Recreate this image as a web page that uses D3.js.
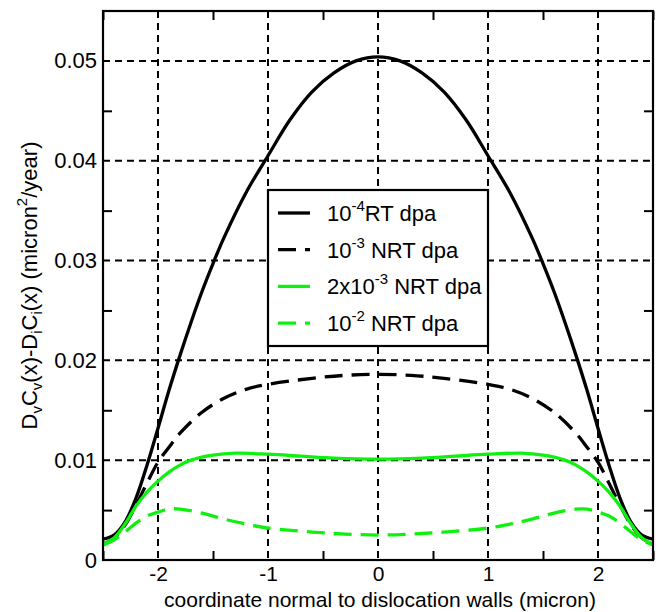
<!DOCTYPE html>
<html>
<head>
<meta charset="utf-8">
<script src="https://cdn.jsdelivr.net/npm/d3@7"></script>
<style>
  body { margin: 0; background: #fff; }
  svg { font-family: "Liberation Sans", Arial, sans-serif; }
</style>
</head>
<body>
<div id="chart"></div>
<script>
// curve data
var xRT = [-2.5, -2.4, -2.3, -2.2, -2.1, -2.0, -1.9, -1.8, -1.7, -1.6, -1.5, -1.4, -1.2, -1.0, -0.8, -0.6, -0.4, -0.2, 0,
    0.2, 0.4, 0.6, 0.8, 1.0, 1.2, 1.4, 1.5, 1.6, 1.7, 1.8, 1.9, 2.0, 2.1, 2.2, 2.3, 2.4, 2.5];
var yRT = [0.0021, 0.0025, 0.0038, 0.0062, 0.0095, 0.0132, 0.0170, 0.0205, 0.0238, 0.0269, 0.0297, 0.0323, 0.0368, 0.0405, 0.0441, 0.0469, 0.0488, 0.0500, 0.0504,
    0.0500, 0.0488, 0.0469, 0.0441, 0.0405, 0.0368, 0.0323, 0.0297, 0.0269, 0.0238, 0.0205, 0.0170, 0.0132, 0.0095, 0.0062, 0.0038, 0.0025, 0.0021];

var xNRT3 = [-2.5, -2.4, -2.3, -2.2, -2.1, -2.0, -1.9, -1.8, -1.6, -1.4, -1.2, -1.0, -0.6, -0.3, 0,
    0.3, 0.6, 1.0, 1.2, 1.4, 1.6, 1.8, 1.9, 2.0, 2.1, 2.2, 2.3, 2.4, 2.5];
var yNRT3 = [0.0016, 0.0022, 0.0035, 0.0055, 0.0077, 0.0098, 0.0113, 0.0127, 0.0148, 0.0162, 0.0171, 0.0176, 0.0182, 0.0185, 0.0186,
    0.0185, 0.0182, 0.0176, 0.0171, 0.0162, 0.0148, 0.0127, 0.0113, 0.0098, 0.0077, 0.0055, 0.0035, 0.0022, 0.0016];

var x2NRT3 = [-2.5, -2.4, -2.3, -2.2, -2.1, -2.0, -1.9, -1.8, -1.7, -1.5, -1.3, -1.0, -0.7, -0.4, 0,
    0.4, 0.7, 1.0, 1.3, 1.5, 1.7, 1.8, 1.9, 2.0, 2.1, 2.2, 2.3, 2.4, 2.5];
var y2NRT3 = [0.0016, 0.0022, 0.0036, 0.0054, 0.0068, 0.0079, 0.0088, 0.0095, 0.0100, 0.0105, 0.0107, 0.0106, 0.0104, 0.0102, 0.0101,
    0.0102, 0.0104, 0.0106, 0.0107, 0.0105, 0.0100, 0.0095, 0.0088, 0.0079, 0.0068, 0.0054, 0.0036, 0.0022, 0.0016];

var xNRT2 = [-2.5, -2.4, -2.3, -2.2, -2.1, -2.0, -1.9, -1.8, -1.6, -1.4, -1.2, -1.0, -0.6, -0.3, 0,
    0.3, 0.6, 1.0, 1.2, 1.4, 1.6, 1.8, 1.9, 2.0, 2.1, 2.2, 2.3, 2.4, 2.5];
var yNRT2 = [0.0015, 0.0020, 0.0028, 0.0037, 0.0044, 0.0048, 0.0051, 0.0051, 0.0047, 0.0041, 0.0036, 0.0032, 0.0028, 0.0026, 0.0025,
    0.0026, 0.0028, 0.0032, 0.0036, 0.0041, 0.0047, 0.0051, 0.0051, 0.0048, 0.0044, 0.0037, 0.0028, 0.0020, 0.0015];

var xMajor = [-2, -1, 0, 1, 2];
var xMinor = [-2.5, -1.5, -0.5, 0.5, 1.5, 2.5];
var yMajor = [0, 0.01, 0.02, 0.03, 0.04, 0.05];
var yMinor = [0.005, 0.015, 0.025, 0.035, 0.045];

var green = "#10f010";
var series = [
    {x: xRT, y: yRT, color: "#000", dash: null, label: ["10", "-4", "RT dpa"]},
    {x: xNRT3, y: yNRT3, color: "#000", dash: "18,9", label: ["10", "-3", " NRT dpa"]},
    {x: x2NRT3, y: y2NRT3, color: green, dash: null, label: ["2x10", "-3", " NRT dpa"]},
    {x: xNRT2, y: yNRT2, color: green, dash: "18,9", label: ["10", "-2", " NRT dpa"]}
];

var margin = {top: 11, right: 7, bottom: 52, left: 103},
    width = 660 - margin.left - margin.right,
    height = 612 - margin.top - margin.bottom;

var x = d3.scaleLinear().domain([-2.5, 2.5]).range([0, width]);
var y = d3.scaleLinear().domain([0, 0.055]).range([height, 0]);

var svg = d3.select("#chart").append("svg").attr("width", 660).attr("height", 612);
var g = svg.append("g").attr("transform", "translate(" + margin.left + "," + margin.top + ")");

// dashed grid
g.append("g").selectAll("line").data(xMajor).enter().append("line")
    .attr("x1", function(d) { return x(d); }).attr("x2", function(d) { return x(d); })
    .attr("y1", 0).attr("y2", height)
    .attr("stroke", "#000").attr("stroke-width", 2).attr("stroke-dasharray", "7,5");
g.append("g").selectAll("line").data(yMajor.slice(1)).enter().append("line")
    .attr("x1", 0).attr("x2", width)
    .attr("y1", function(d) { return y(d); }).attr("y2", function(d) { return y(d); })
    .attr("stroke", "#000").attr("stroke-width", 2).attr("stroke-dasharray", "7,5");

// minor ticks, inward on all four sides
function tickStyle(sel) {
    sel.select(".domain").remove();
    sel.selectAll(".tick line").attr("stroke", "#000").attr("stroke-width", 2);
}
g.append("g").attr("transform", "translate(0," + height + ")")
    .call(d3.axisBottom(x).tickValues(xMinor).tickSize(-9).tickFormat("")).call(tickStyle);
g.append("g")
    .call(d3.axisTop(x).tickValues(xMinor).tickSize(-9).tickFormat("")).call(tickStyle);
g.append("g")
    .call(d3.axisLeft(y).tickValues(yMinor).tickSize(-9).tickFormat("")).call(tickStyle);
g.append("g").attr("transform", "translate(" + width + ",0)")
    .call(d3.axisRight(y).tickValues(yMinor).tickSize(-9).tickFormat("")).call(tickStyle);

// tick labels
var xAxis = g.append("g").attr("transform", "translate(0," + height + ")")
    .call(d3.axisBottom(x).tickValues(xMajor).tickSize(0).tickPadding(6)
        .tickFormat(function(d) { return String(d); }));
xAxis.select(".domain").remove();
xAxis.selectAll("text").attr("font-size", 21).attr("fill", "#000")
    .attr("font-family", "Liberation Sans, Arial, sans-serif");

var yAxis = g.append("g")
    .call(d3.axisLeft(y).tickValues(yMajor).tickSize(0).tickPadding(6)
        .tickFormat(function(d) { return d === 0 ? "0" : d3.format(".2f")(d); }));
yAxis.select(".domain").remove();
yAxis.selectAll("text").attr("font-size", 22).attr("fill", "#000")
    .attr("font-family", "Liberation Sans, Arial, sans-serif");

// curves
var line = d3.line().curve(d3.curveCatmullRom)
    .x(function(d) { return x(d[0]); }).y(function(d) { return y(d[1]); });

series.forEach(function(s) {
    var pts = s.x.map(function(v, i) { return [v, s.y[i]]; });
    g.append("path").datum(pts)
        .attr("d", line).attr("fill", "none")
        .attr("stroke", s.color).attr("stroke-width", 3.3)
        .attr("stroke-dasharray", s.dash);
});

// frame
g.append("rect").attr("width", width).attr("height", height)
    .attr("fill", "none").attr("stroke", "#000").attr("stroke-width", 2.2);

// legend
var lg = g.append("g").attr("transform", "translate(" + x(-1) + "," + (190 - margin.top) + ")");
lg.append("rect").attr("width", x(1) - x(-1)).attr("height", 156)
    .attr("fill", "#fff").attr("stroke", "#000").attr("stroke-width", 2.2);
var items = lg.selectAll(".legend").data(series).enter().append("g").attr("class", "legend")
    .attr("transform", function(d, i) { return "translate(0," + (23 + i * 36.7) + ")"; });
items.append("line").attr("x1", 10).attr("x2", 42).attr("y1", 0).attr("y2", 0)
    .attr("stroke", function(d) { return d.color; }).attr("stroke-width", 3.3)
    .attr("stroke-dasharray", function(d) { return d.dash; });
var lt = items.append("text").attr("x", 59).attr("y", 8).attr("font-size", 22);
lt.append("tspan").text(function(d) { return d.label[0]; });
lt.append("tspan").attr("dy", -10).attr("font-size", 15).text(function(d) { return d.label[1]; });
lt.append("tspan").attr("dy", 10).text(function(d) { return d.label[2]; });

// axis titles
svg.append("text").attr("x", margin.left + width / 2 + 2).attr("y", 607)
    .attr("text-anchor", "middle").attr("font-size", 21)
    .text("coordinate normal to dislocation walls (micron)");

var yt = svg.append("text").attr("transform", "translate(37," + (margin.top + height / 2) + ") rotate(-90)")
    .attr("text-anchor", "middle").attr("font-size", 22);
[["D", 0], ["v", 1], ["C", -1], ["v", 1], ["(x)-D", -1], ["i", 1], ["C", -1], ["i", 1],
 ["(x) (micron", -1], ["2", 2], ["/year)", -2]].forEach(function(p) {
    var small = (p[1] === 1 || p[1] === 2);
    var dy = p[1] === 1 ? 5 : p[1] === -1 ? -5 : p[1] === 2 ? -10 : p[1] === -2 ? 10 : 0;
    yt.append("tspan").attr("dy", dy).attr("font-size", small ? 15 : 22).text(p[0]);
});
</script>
</body>
</html>
